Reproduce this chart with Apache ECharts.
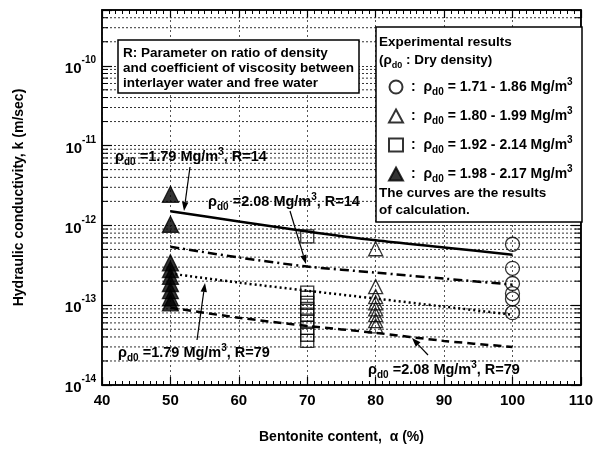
<!DOCTYPE html>
<html>
<head>
<meta charset="utf-8">
<script src="https://cdn.jsdelivr.net/npm/echarts@6/dist/echarts.min.js"></script>
<style>
  html, body { margin: 0; padding: 0; background: #fff; }
  #chart { width: 596px; height: 453px; }
</style>
</head>
<body>
<div id="chart"></div>
<script>
// calculated curves (k in m/sec) at these bentonite contents
const curveX = [50, 60, 70, 80, 90, 100];
const calc179R14 = [1.50e-12, 1.12e-12, 8.4e-13, 6.5e-13, 5.3e-13, 4.3e-13];
const calc208R14 = [5.4e-13, 3.96e-13, 3.05e-13, 2.56e-13, 2.15e-13, 1.81e-13];
const calc179R79 = [2.49e-13, 1.92e-13, 1.52e-13, 1.21e-13, 9.6e-14, 7.6e-14];
const calc208R79 = [9.3e-14, 6.97e-14, 5.5e-14, 4.5e-14, 3.57e-14, 3.0e-14];

// experimental results
const circleX = 100;
const circleK = [5.8e-13, 2.9e-13, 1.87e-13, 1.4e-13, 1.2e-13, 8.05e-14];
const triOpenX = 80;
const triOpenK = [5.1e-13, 1.71e-13, 1.28e-13, 1.07e-13, 9.0e-14, 7.6e-14, 6.4e-14, 5.5e-14];
const squareX = 70;
const squareK = [7.3e-13, 1.44e-13, 1.24e-13, 1.07e-13, 9.0e-14, 7.6e-14, 6.4e-14, 5.2e-14, 4.26e-14, 3.57e-14];
const triFillX = 50;
const triFillK = [2.45e-12, 1.03e-12, 3.4e-13, 2.8e-13, 2.3e-13, 1.87e-13, 1.52e-13, 1.24e-13, 1.07e-13];

const rangeNames = ['1.71 - 1.86', '1.80 - 1.99', '1.92 - 2.14', '1.98 - 2.17'];

// axis ranges / minor grid
const xMin = 40, xMax = 110;
const kMin = 1e-14, kMax = 5e-10;
const decades = [-14, -13, -12, -11, -10];
const mantissas = [2, 3, 4, 5, 6, 7, 8, 9];

const FONT = "'Liberation Sans', Arial, sans-serif";

const minorVals = [];
decades.forEach(d => mantissas.forEach(m => {
  const v = m * Math.pow(10, d);
  if (v < kMax * 0.999) minorVals.push(v);
}));

const chart = echarts.init(document.getElementById('chart'));

function pts(x, arr) { return arr.map(k => [x, k]); }
function curve(arr) { return curveX.map((x, i) => [x, arr[i]]); }

function richSet(size) {
  const sm = Math.round(size * 0.68);
  return {
    s: { fontSize: sm, lineHeight: sm, verticalAlign: 'bottom', fontWeight: 'bold', fontFamily: FONT, fill: '#000', color: '#000' },
    p: { fontSize: sm, lineHeight: sm, verticalAlign: 'top', fontWeight: 'bold', fontFamily: FONT, fill: '#000', color: '#000' },
    n: { fontSize: size, lineHeight: size + 6, fontWeight: 'bold', fontFamily: FONT, fill: '#000', color: '#000' }
  };
}

function label(x, y, txt, size) {
  return {
    type: 'text', x: x, y: y, z: 100,
    style: { text: txt, rich: richSet(size), textVerticalAlign: 'middle', verticalAlign: 'middle', fill: '#000',
      font: 'bold ' + size + 'px ' + FONT }
  };
}

function arrow(x1, y1, x2, y2) {
  const a = Math.atan2(y2 - y1, x2 - x1);
  const L = 9, W = 3.2;
  const bx = x2 - L * Math.cos(a), by = y2 - L * Math.sin(a);
  return [
    { type: 'line', z: 100, shape: { x1: x1, y1: y1, x2: bx, y2: by }, style: { stroke: '#000', lineWidth: 1.2 } },
    { type: 'polygon', z: 100, shape: { points: [[x2, y2], [bx + W * Math.sin(a), by - W * Math.cos(a)], [bx - W * Math.sin(a), by + W * Math.cos(a)]] },
      style: { fill: '#000' } }
  ];
}

function plain(x, y, txt, size) {
  return { type: 'text', x: x, y: y, z: 100,
    style: { text: txt, font: 'bold ' + size + 'px ' + FONT, fill: '#000', textVerticalAlign: 'middle', verticalAlign: 'middle' } };
}

const rho = '{n|ρ}{s|d0}';

const graphics = [
  // R parameter box
  { type: 'rect', z: 90, shape: { x: 118, y: 40, width: 241, height: 53 }, style: { fill: '#fff', stroke: '#000', lineWidth: 1.5 } },
  plain(123, 53, 'R: Parameter on ratio of density', 13.5),
  plain(123, 68, 'and coefficient of viscosity between', 13.5),
  plain(123, 83, 'interlayer water and free water', 13.5),
  // experimental legend box
  { type: 'rect', z: 90, shape: { x: 376, y: 27, width: 206, height: 195 }, style: { fill: '#fff', stroke: '#000', lineWidth: 1.5 } },
  plain(379, 42, 'Experimental results', 13.5),
  label(379, 60, '{n|(}' + rho + '{n| : Dry density)}', 13.5),
  plain(379, 193, 'The curves are the results', 13.5),
  plain(379, 210, 'of calculation.', 13.5),
  // curve annotations
  label(115, 157, rho + '{n| =1.79 Mg/m}{p|3}{n|, R=14}', 14.5),
  label(208, 202, rho + '{n| =2.08 Mg/m}{p|3}{n|, R=14}', 14.5),
  label(118, 353, rho + '{n| =1.79 Mg/m}{p|3}{n|, R=79}', 14.5),
  label(368, 370, rho + '{n| =2.08 Mg/m}{p|3}{n|, R=79}', 14.5)
].concat(arrow(190, 167, 184, 211), arrow(290, 211, 306, 264), arrow(197, 340, 205, 283), arrow(428, 355, 412, 338));

function isPow(v) {
  const e = Math.log10(v);
  return Math.abs(e - Math.round(e)) < 1e-6;
}

const markerStyle = (sym, fill) => ({
  type: 'scatter', symbol: sym, z: 5,
  itemStyle: { color: fill, borderColor: '#000', borderWidth: 1.3 }
});

const legendRich = richSet(14);

// dotted minor gridlines (2..9 x 10^n) with short solid ticks on both frame edges
function renderMinor(params, api) {
  const y = api.coord([api.value(0), api.value(1)])[1];
  const cs = params.coordSys;
  const x0 = cs.x, x1 = cs.x + cs.width;
  return {
    type: 'group', silent: true,
    children: [
      { type: 'line', shape: { x1: x0, y1: y, x2: x1, y2: y }, style: { stroke: '#333', lineDash: [2, 2], lineWidth: 1 } },
      { type: 'line', shape: { x1: x0, y1: y, x2: x0 + 6, y2: y }, style: { stroke: '#000', lineWidth: 1 } },
      { type: 'line', shape: { x1: x1 - 6, y1: y, x2: x1, y2: y }, style: { stroke: '#000', lineWidth: 1 } }
    ]
  };
}

const option = {
  animation: false,
  backgroundColor: '#fff',
  grid: { left: 102, right: 14, top: 10, bottom: 68, show: true, borderColor: '#000', borderWidth: 1.5, backgroundColor: 'transparent' },
  xAxis: [{
    type: 'value', min: xMin, max: xMax, interval: 10,
    name: 'Bentonite content,  α (%)', nameLocation: 'middle', nameGap: 45,
    nameTextStyle: { fontFamily: FONT, fontWeight: 'bold', fontSize: 14, color: '#000' },
    axisLine: { lineStyle: { color: '#000', width: 1.5 } },
    axisTick: { inside: true, length: 8, lineStyle: { color: '#000', width: 1.2 } },
    minorTick: { show: true, splitNumber: 10, length: 4, lineStyle: { color: '#000', width: 1 } },
    axisLabel: { fontFamily: FONT, fontWeight: 'bold', fontSize: 15, color: '#000', margin: 8 },
    splitLine: { show: true, lineStyle: { color: '#555', type: [2, 3], width: 1 } }
  }, {
    type: 'value', min: xMin, max: xMax, interval: 10, position: 'top',
    axisLine: { lineStyle: { color: '#000', width: 1.5 } },
    axisTick: { inside: true, length: 8, lineStyle: { color: '#000', width: 1.2 } },
    minorTick: { show: true, splitNumber: 10, length: 4, lineStyle: { color: '#000', width: 1 } },
    axisLabel: { show: false }, splitLine: { show: false }
  }],
  yAxis: [{
    type: 'log', logBase: 10, min: kMin, max: kMax,
    name: 'Hydraulic conductivity, k (m/sec)', nameLocation: 'middle', nameGap: 76,
    nameTextStyle: { fontFamily: FONT, fontWeight: 'bold', fontSize: 14, color: '#000' },
    axisLine: { lineStyle: { color: '#000', width: 1.5 } },
    axisTick: { inside: true, length: 10, lineStyle: { color: '#000', width: 1.2 } },
    axisLabel: {
      margin: 6, color: '#000',
      formatter: v => isPow(v) ? '{b|10}{e|' + Math.round(Math.log10(v)) + '}' : '',
      rich: {
        b: { fontFamily: FONT, fontWeight: 'bold', fontSize: 15, lineHeight: 21, verticalAlign: 'bottom', color: '#000' },
        e: { fontFamily: FONT, fontWeight: 'bold', fontSize: 10, lineHeight: 10, verticalAlign: 'top', color: '#000' }
      }
    },
    splitLine: { show: true, lineStyle: { color: '#333', type: [2, 2], width: 1 } }
  }, {
    type: 'log', logBase: 10, min: kMin, max: kMax, position: 'right',
    axisLine: { lineStyle: { color: '#000', width: 1.5 } },
    axisTick: { inside: true, length: 10, lineStyle: { color: '#000', width: 1.2 } },
    axisLabel: { show: false }, splitLine: { show: false }
  }],
  legend: {
    orient: 'vertical', left: 388, top: 77, itemGap: 9, itemWidth: 14, itemHeight: 13, padding: 0,
    data: rangeNames, selectedMode: false, z: 100,
    formatter: name => '{n|:  }' + '{n|ρ}{s|d0}' + '{n| = ' + name + ' Mg/m}{p|3}',
    textStyle: { color: '#000', padding: [0, 0, 0, 3], rich: legendRich }
  },
  graphic: graphics,
  series: [
    { type: 'custom', name: 'minorGrid', silent: true, z: 1, clip: true,
      data: minorVals.map(v => [xMin, v]), encode: { x: 0, y: 1 },
      renderItem: renderMinor },
    { type: 'line', data: curve(calc179R14), showSymbol: false, smooth: 0.3, z: 4,
      lineStyle: { color: '#000', width: 2.5, type: 'solid' } },
    { type: 'line', data: curve(calc208R14), showSymbol: false, smooth: 0.3, z: 4,
      lineStyle: { color: '#000', width: 2.5, type: [9, 4, 2, 4] } },
    { type: 'line', data: curve(calc179R79), showSymbol: false, smooth: 0.3, z: 4,
      lineStyle: { color: '#000', width: 2.5, type: [2, 3] } },
    { type: 'line', data: curve(calc208R79), showSymbol: false, smooth: 0.3, z: 4,
      lineStyle: { color: '#000', width: 2.5, type: [8, 5] } },
    Object.assign(markerStyle('circle', 'rgba(255,255,255,0)'), { name: rangeNames[0], data: pts(circleX, circleK), symbolSize: 14 }),
    Object.assign(markerStyle('triangle', 'rgba(255,255,255,0)'), { name: rangeNames[1], data: pts(triOpenX, triOpenK), symbolSize: 14 }),
    Object.assign(markerStyle('rect', 'rgba(255,255,255,0)'), { name: rangeNames[2], data: pts(squareX, squareK), symbolSize: 13 }),
    Object.assign(markerStyle('triangle', '#000'), { name: rangeNames[3], data: pts(triFillX, triFillK), symbolSize: 16 })
  ]
};

chart.setOption(option);
</script>
</body>
</html>
